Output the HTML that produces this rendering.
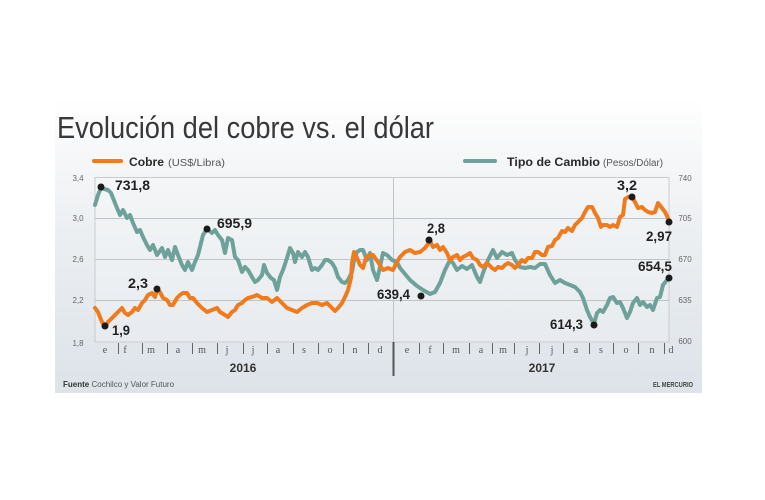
<!DOCTYPE html>
<html>
<head>
<meta charset="utf-8">
<style>
html,body{margin:0;padding:0;background:#fff;}
svg{display:block;}
</style>
</head>
<body>
<svg width="765" height="500" viewBox="0 0 765 500" xmlns="http://www.w3.org/2000/svg">
<defs>
<linearGradient id="pg" x1="0" y1="0" x2="0" y2="1">
<stop offset="0" stop-color="#ffffff"/>
<stop offset="0.2" stop-color="#f6f7f8"/>
<stop offset="0.45" stop-color="#eceff2"/>
<stop offset="1" stop-color="#dde3e9"/>
</linearGradient>
<linearGradient id="plg" x1="0" y1="0" x2="0" y2="1">
<stop offset="0" stop-color="#f4f6f7"/>
<stop offset="1" stop-color="#e7ebef"/>
</linearGradient>
</defs>
<rect x="0" y="0" width="765" height="500" fill="#fff"/>
<rect x="55" y="98" width="647" height="295" fill="url(#pg)"/>

<!-- title -->
<text x="57" y="138" font-family="'Liberation Sans Narrow','Liberation Sans',sans-serif" font-size="31" fill="#383838" textLength="377" lengthAdjust="spacingAndGlyphs">Evolución del cobre vs. el dólar</text>

<!-- legend -->
<rect x="92" y="159" width="31" height="4" rx="2" fill="#f07b1c"/>
<text x="129" y="166" font-family="'Liberation Sans Narrow','Liberation Sans',sans-serif" font-size="12" font-weight="bold" fill="#2a2a2a" textLength="35" lengthAdjust="spacingAndGlyphs">Cobre</text>
<text x="168" y="166" font-family="'Liberation Sans Narrow','Liberation Sans',sans-serif" font-size="10" fill="#555" textLength="57" lengthAdjust="spacingAndGlyphs">(US$/Libra)</text>
<rect x="463" y="159" width="34" height="4" rx="2" fill="#6fa19b"/>
<text x="507" y="166" font-family="'Liberation Sans Narrow','Liberation Sans',sans-serif" font-size="12" font-weight="bold" fill="#2a2a2a" textLength="93" lengthAdjust="spacingAndGlyphs">Tipo de Cambio</text>
<text x="603" y="166" font-family="'Liberation Sans Narrow','Liberation Sans',sans-serif" font-size="10" fill="#555" textLength="60" lengthAdjust="spacingAndGlyphs">(Pesos/Dólar)</text>

<!-- plot area -->
<rect x="95" y="177.5" width="574" height="164.5" fill="url(#plg)" stroke="#c8ccd1" stroke-width="1"/>
<g stroke="#bfc4c9" stroke-width="1">
<line x1="95" y1="218.5" x2="669" y2="218.5"/>
<line x1="95" y1="259.5" x2="669" y2="259.5"/>
<line x1="95" y1="300.5" x2="669" y2="300.5"/>
<line x1="393.5" y1="177.5" x2="393.5" y2="342"/>
</g>

<!-- axis labels left -->
<g font-family="'Liberation Sans Narrow','Liberation Sans',sans-serif" font-size="8" fill="#666" text-anchor="middle">
<text x="78" y="181">3,4</text>
<text x="78" y="221">3,0</text>
<text x="78" y="262">2,6</text>
<text x="78" y="303">2,2</text>
<text x="78" y="346">1,8</text>
<text x="685" y="181">740</text>
<text x="685" y="221">705</text>
<text x="685" y="262">670</text>
<text x="685" y="303">635</text>
<text x="685" y="344">600</text>
</g>

<!-- month ticks -->
<g stroke="#666" stroke-width="1">
<line x1="118.5" y1="343" x2="118.5" y2="354"/>
<line x1="142.5" y1="343" x2="142.5" y2="354"/>
<line x1="167.5" y1="343" x2="167.5" y2="354"/>
<line x1="192.5" y1="343" x2="192.5" y2="354"/>
<line x1="217.5" y1="343" x2="217.5" y2="354"/>
<line x1="243.5" y1="343" x2="243.5" y2="354"/>
<line x1="267.5" y1="343" x2="267.5" y2="354"/>
<line x1="293.5" y1="343" x2="293.5" y2="354"/>
<line x1="318.5" y1="343" x2="318.5" y2="354"/>
<line x1="343.5" y1="343" x2="343.5" y2="354"/>
<line x1="368.5" y1="343" x2="368.5" y2="354"/>
<line x1="419.5" y1="343" x2="419.5" y2="354"/>
<line x1="443.5" y1="343" x2="443.5" y2="354"/>
<line x1="469.5" y1="343" x2="469.5" y2="354"/>
<line x1="492.5" y1="343" x2="492.5" y2="354"/>
<line x1="514.5" y1="343" x2="514.5" y2="354"/>
<line x1="539.5" y1="343" x2="539.5" y2="354"/>
<line x1="563.5" y1="343" x2="563.5" y2="354"/>
<line x1="589.5" y1="343" x2="589.5" y2="354"/>
<line x1="613.5" y1="343" x2="613.5" y2="354"/>
<line x1="638.5" y1="343" x2="638.5" y2="354"/>
<line x1="664.5" y1="343" x2="664.5" y2="354"/>
</g>
<line x1="393.5" y1="342" x2="393.5" y2="376" stroke="#555" stroke-width="2"/>

<g font-family="'Liberation Serif',serif" font-size="10" fill="#555" text-anchor="middle">
<text x="105" y="353">e</text>
<text x="125" y="353">f</text>
<text x="151" y="353">m</text>
<text x="178" y="353">a</text>
<text x="202" y="353">m</text>
<text x="227" y="353">j</text>
<text x="253" y="353">j</text>
<text x="278" y="353">a</text>
<text x="304" y="353">s</text>
<text x="330" y="353">o</text>
<text x="355" y="353">n</text>
<text x="380" y="353">d</text>
<text x="407" y="353">e</text>
<text x="430" y="353">f</text>
<text x="456" y="353">m</text>
<text x="481" y="353">a</text>
<text x="503" y="353">m</text>
<text x="527" y="353">j</text>
<text x="552" y="353">j</text>
<text x="576" y="353">a</text>
<text x="601" y="353">s</text>
<text x="626" y="353">o</text>
<text x="652" y="353">n</text>
<text x="671" y="353">d</text>
</g>
<g font-family="'Liberation Sans Narrow','Liberation Sans',sans-serif" font-size="12" font-weight="bold" fill="#333" text-anchor="middle">
<text x="243" y="372">2016</text>
<text x="542" y="372">2017</text>
</g>

<!-- series -->
<polyline fill="none" stroke="#6fa19b" stroke-width="4" stroke-linejoin="round" stroke-linecap="round" points="95,205 98,195 101,188 104,189 108,190 111,193 113,198 117,208 120,215 123,210 127,218 130,215 133,223 137,232 140,230 143,237 147,245 150,250 153,245 157,255 162,248 165,257 168,250 172,260 175,247 178,255 182,265 185,270 188,262 192,270 195,262 198,255 203,235 207,229 212,233 215,230 218,235 222,240 225,253 228,238 232,240 235,257 238,260 242,272 245,267 248,270 252,277 255,282 258,280 262,275 264,265 267,273 271,278 274,280 277,290 280,277 283,270 287,258 290,248 293,253 295,262 298,252 302,257 305,252 308,257 312,270 315,268 318,270 322,265 325,260 328,260 332,263 335,268 338,277 342,282 345,283 348,280 352,272 354,260 357,252 360,250 363,250 367,260 370,253 373,270 377,280 380,267 383,253 387,255 392,260 397,262 400,268 405,274 410,280 417,286 423,290 430,294 435,292 440,283 445,270 450,260 453,263 457,270 462,266 467,269 472,265 477,277 480,282 483,273 488,260 493,250 497,258 502,252 507,255 512,253 515,260 520,267 525,268 530,267 535,268 540,264 545,264 550,275 555,283 560,280 565,283 570,285 575,287 580,292 583,298 587,310 590,317 594,324 597,313 600,310 603,312 607,305 610,298 613,297 617,303 620,302 623,308 627,318 630,312 633,303 637,298 640,305 643,302 647,307 650,305 653,310 657,298 660,297 663,285 667,280 669,278"/>
<polyline fill="none" stroke="#f07b1c" stroke-width="4" stroke-linejoin="round" stroke-linecap="round" points="95,308 98,312 102,322 105,326 108,322 112,318 115,315 118,312 122,308 125,313 128,315 132,312 135,308 138,310 142,303 145,300 148,295 152,293 155,297 157,290 160,292 163,298 167,300 170,305 173,305 177,298 180,295 183,293 187,293 190,298 193,298 197,303 202,308 207,312 212,310 217,308 220,312 225,315 228,317 232,312 235,310 238,305 242,303 245,300 248,298 252,297 257,295 262,298 267,298 272,302 277,298 282,303 287,308 292,310 297,312 302,308 307,305 312,303 317,303 322,305 327,303 332,308 335,311 338,308 342,303 345,297 348,290 351,278 352,263 354,252 357,258 360,265 363,268 366,258 369,255 373,255 378,262 383,270 388,268 393,270 397,262 400,257 405,252 410,250 415,253 420,252 425,248 430,241 433,247 437,245 440,250 443,247 447,253 450,260 453,257 457,255 460,260 463,257 467,255 470,253 473,258 477,260 480,265 483,267 487,263 492,268 495,270 498,267 502,268 505,265 508,263 512,265 515,268 518,265 522,260 525,262 528,258 532,258 535,252 538,252 542,255 545,255 548,247 552,246 555,240 558,238 562,231 565,232 568,228 572,231 575,225 578,222 582,218 585,212 588,207 592,207 595,213 598,218 601,227 603,225 607,225 610,227 613,225 617,227 620,217 623,215 625,199 628,197 632,197 635,202 638,208 642,207 645,210 648,212 652,213 655,212 658,203 662,208 665,212 668,218 669,222"/>

<!-- dots -->
<g fill="#1b1b1b">
<circle cx="101" cy="187" r="3.5"/>
<circle cx="207" cy="229" r="3.5"/>
<circle cx="157" cy="289" r="3.5"/>
<circle cx="105" cy="326" r="3.5"/>
<circle cx="429" cy="240" r="3.5"/>
<circle cx="421" cy="296" r="3.5"/>
<circle cx="594" cy="325" r="3.5"/>
<circle cx="632" cy="197" r="3.5"/>
<circle cx="669" cy="222" r="3.5"/>
<circle cx="669" cy="278" r="3.5"/>
</g>

<!-- data labels -->
<g font-family="'Liberation Sans Narrow','Liberation Sans',sans-serif" font-size="14" font-weight="bold" fill="#222">
<text x="115" y="190" textLength="35" lengthAdjust="spacingAndGlyphs">731,8</text>
<text x="217" y="228" textLength="35" lengthAdjust="spacingAndGlyphs">695,9</text>
<text x="128" y="288" textLength="20" lengthAdjust="spacingAndGlyphs">2,3</text>
<text x="112" y="335" textLength="18" lengthAdjust="spacingAndGlyphs">1,9</text>
<text x="427" y="233" textLength="18" lengthAdjust="spacingAndGlyphs">2,8</text>
<text x="377" y="299" textLength="33" lengthAdjust="spacingAndGlyphs">639,4</text>
<text x="550" y="329" textLength="33" lengthAdjust="spacingAndGlyphs">614,3</text>
<text x="617" y="190" textLength="20" lengthAdjust="spacingAndGlyphs">3,2</text>
<text x="646" y="241" textLength="26" lengthAdjust="spacingAndGlyphs">2,97</text>
<text x="638" y="271" textLength="34" lengthAdjust="spacingAndGlyphs">654,5</text>
</g>

<!-- footer -->
<text x="63" y="387" font-family="'Liberation Sans Narrow','Liberation Sans',sans-serif" font-size="8" fill="#333"><tspan font-weight="bold">Fuente</tspan> <tspan fill="#555">Cochilco y Valor Futuro</tspan></text>
<text x="693" y="387" text-anchor="end" font-family="'Liberation Sans Narrow','Liberation Sans',sans-serif" font-size="7" font-weight="bold" fill="#444" textLength="40" lengthAdjust="spacingAndGlyphs">EL MERCURIO</text>
</svg>
</body>
</html>
